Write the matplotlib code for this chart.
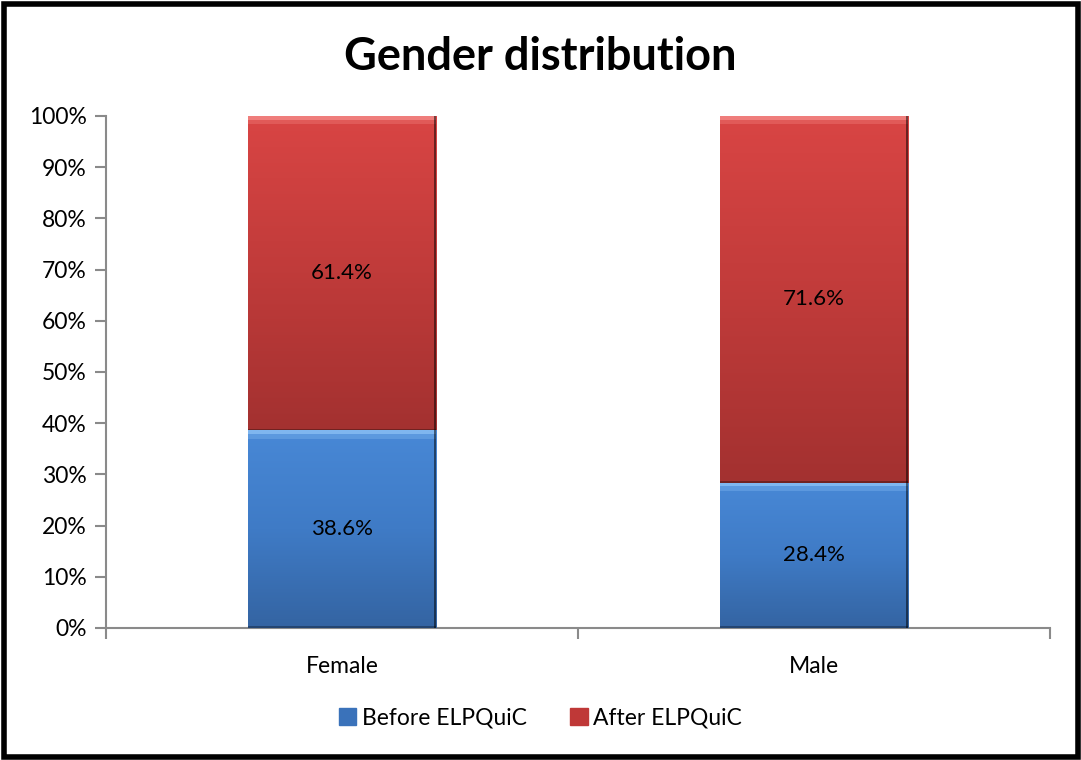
import numpy as np
import matplotlib.pyplot as plt
from matplotlib.patches import Rectangle
from matplotlib.colors import LinearSegmentedColormap

plt.rcParams['font.family'] = ['Lato', 'DejaVu Sans']

groups = ['Female', 'Male']
before = [38.6, 28.4]
after = [61.4, 71.6]
series = ['Before ELPQuiC', 'After ELPQuiC']

blue_cm = LinearSegmentedColormap.from_list('b', ['#3464a2', '#3f7bc6', '#4888d6'])
red_cm = LinearSegmentedColormap.from_list('r', ['#a33130', '#c03b3a', '#d94544'])

fig = plt.figure(figsize=(10.81, 7.60), dpi=100)
ax = fig.add_axes([0.0981, 0.1737, 0.8733, 0.6737])

x = np.arange(len(groups))
b1 = ax.bar(x, before, width=0.40, color='#4080cc', label=series[0], zorder=2)
b2 = ax.bar(x, after, width=0.40, bottom=before, color='#d04040', label=series[1], zorder=2)

# gradient fill + bevel edges on each bar segment
grad = np.linspace(0, 1, 256).reshape(-1, 1)
for bars, cm, hi in [(b1, blue_cm, '#86bcf2'), (b2, red_cm, '#f28482')]:
    for p in bars:
        x0, y0 = p.get_x(), p.get_y()
        w, h = p.get_width(), p.get_height()
        im = ax.imshow(grad, cmap=cm, aspect='auto', origin='lower',
                       extent=(x0, x0 + w, y0, y0 + h), zorder=3)
        im.set_clip_path(p)
        ax.add_patch(Rectangle((x0, y0 + h - 0.7), w, 0.7, color=hi, lw=0, zorder=4, alpha=0.9))
        ax.add_patch(Rectangle((x0, y0 + h - 1.6), w, 0.9, color=hi, lw=0, zorder=4, alpha=0.35))
        ax.add_patch(Rectangle((x0 + w - 0.005, y0), 0.005, h, color='black', lw=0, zorder=4, alpha=0.5))
        ax.add_patch(Rectangle((x0, y0), w, 0.35, color='black', lw=0, zorder=4, alpha=0.3))

for i in x:
    ax.text(i, before[i] / 2, f'{before[i]:.1f}%', ha='center', va='center', fontsize=16, zorder=5)
    ax.text(i, before[i] + after[i] / 2, f'{after[i]:.1f}%', ha='center', va='center', fontsize=16, zorder=5)

ax.set_xlim(-0.5, 1.5)
ax.set_ylim(0, 100)
ax.set_yticks(range(0, 101, 10))
ax.set_yticklabels([f'{v}%' for v in range(0, 101, 10)], fontsize=16.5)
ax.set_xticks([-0.5, 0.5, 1.5], minor=False)
ax.set_xticklabels([])
ax.set_xticks(x, minor=True)
ax.set_xticklabels(groups, minor=True, fontsize=16.5)
ax.tick_params(axis='x', which='minor', length=0, pad=20)
ax.tick_params(axis='x', which='major', length=8, color='#8a8a8a', width=1.5)
ax.tick_params(axis='y', length=8, color='#8a8a8a', width=1.5, pad=6)
for s in ['top', 'right']:
    ax.spines[s].set_visible(False)
for s in ['left', 'bottom']:
    ax.spines[s].set_color('#8a8a8a')
    ax.spines[s].set_linewidth(1.5)

fig.text(0.5, 0.925, 'Gender distribution', ha='center', va='center', fontsize=32.5, fontweight='bold')

leg = fig.legend(handles=[b1, b2], labels=series, loc='center', bbox_to_anchor=(0.5, 0.055),
                 ncol=2, frameon=False, fontsize=16.5, handlelength=0.75, handleheight=0.75,
                 handletextpad=0.25, columnspacing=1.9)
leg.legend_handles[0].set_color('#3a72ba')
leg.legend_handles[1].set_color('#bf3837')

# outer frame
fig.patches.append(Rectangle((0.004, 0.004), 0.993, 0.991, transform=fig.transFigure,
                             facecolor='none', edgecolor='black', lw=4, zorder=1))

fig.savefig('out.png', dpi=100)
